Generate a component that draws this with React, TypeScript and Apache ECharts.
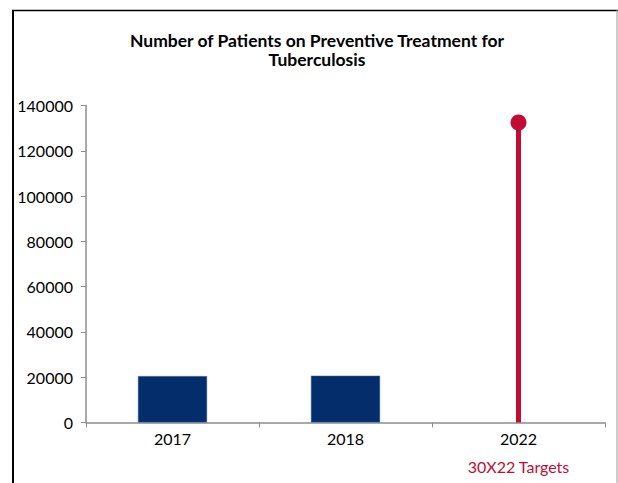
import React, { useEffect, useRef } from "react";
import * as echarts from "echarts";

const categories = ["2017", "2018", "2022"];
const patientValues = [20500, 20700, null];
const targetValues = [null, null, 132500];
const yTicks = { min: 0, max: 140000, interval: 20000 };
const targetLabel = "30X22 Targets";
const titleText = "Number of Patients on Preventive Treatment for\nTuberculosis";

const NAVY = "#032d6b";
const RED = "#c20c33";
const FONT = "Lato, 'DejaVu Sans', sans-serif";

export default function App() {
  const ref = useRef<HTMLDivElement>(null);
  useEffect(() => {
    if (!ref.current) return;
    const chart = echarts.init(ref.current, null, { renderer: "svg" });
    chart.setOption({
      animation: false,
      backgroundColor: "#ffffff",
      title: {
        text: titleText,
        left: 312,
        textAlign: "center",
        top: 26,
        textStyle: {
          fontFamily: FONT,
          fontWeight: "bold",
          fontSize: 17.5,
          color: "#000",
          lineHeight: 19,
        },
      },
      graphic: [
        { type: "line", shape: { x1: 13, y1: 10, x2: 13, y2: 483 }, style: { stroke: "#000", lineWidth: 2 } },
        { type: "line", shape: { x1: 12, y1: 10.5, x2: 618, y2: 10.5 }, style: { stroke: "#000", lineWidth: 1.5 } },
        { type: "line", shape: { x1: 617, y1: 10, x2: 617, y2: 483 }, style: { stroke: "#999", lineWidth: 1 } },
      ],
      grid: { left: 86, right: 13, top: 105.5, bottom: 60.5, containLabel: false },
      xAxis: [
        {
          type: "category",
          data: categories,
          axisLine: { lineStyle: { color: "#8c8c8c", width: 1.5 } },
          axisTick: { show: true, length: 5, lineStyle: { color: "#8c8c8c" } },
          axisLabel: {
            margin: 6.5,
            color: "#000",
            fontFamily: FONT,
            fontSize: 16,
            formatter: (v: string) =>
              v === "2022" ? `{a|${v}}\n{b|${targetLabel}}` : `{a|${v}}`,
            rich: {
              a: { fontFamily: FONT, fontSize: 16, color: "#000", lineHeight: 18 },
              b: { fontFamily: FONT, fontSize: 16, color: RED, lineHeight: 38 },
            },
          },
        },
        { type: "category", data: categories, show: false },
      ],
      yAxis: {
        type: "value",
        min: yTicks.min,
        max: yTicks.max,
        interval: yTicks.interval,
        splitLine: { show: false },
        axisLine: { show: true, lineStyle: { color: "#8c8c8c", width: 1.5 } },
        axisTick: { show: true, length: 5, lineStyle: { color: "#8c8c8c" } },
        axisLabel: {
          margin: 13,
          color: "#000",
          fontFamily: FONT,
          fontSize: 16,
          formatter: (v: number) => String(v),
        },
      },
      series: [
        {
          type: "bar",
          xAxisIndex: 0,
          data: patientValues,
          barWidth: "40%",
          itemStyle: { color: NAVY, borderColor: "#5a78a8", borderWidth: 0.5 },
        },
        {
          type: "bar",
          xAxisIndex: 1,
          data: targetValues,
          barWidth: 5,
          itemStyle: { color: RED },
        },
        {
          type: "scatter",
          xAxisIndex: 0,
          data: categories
            .map((c, i) => (targetValues[i] == null ? null : [c, targetValues[i]]))
            .filter(Boolean),
          symbol: "circle",
          symbolSize: 16,
          itemStyle: { color: RED, opacity: 1 },
          z: 5,
        },
      ],
    });
    return () => chart.dispose();
  }, []);
  return (
    <div style={{ position: "fixed", left: 0, top: 0, width: 618, height: 483 }}>
      <div ref={ref} style={{ width: 618, height: 483 }} />
    </div>
  );
}
